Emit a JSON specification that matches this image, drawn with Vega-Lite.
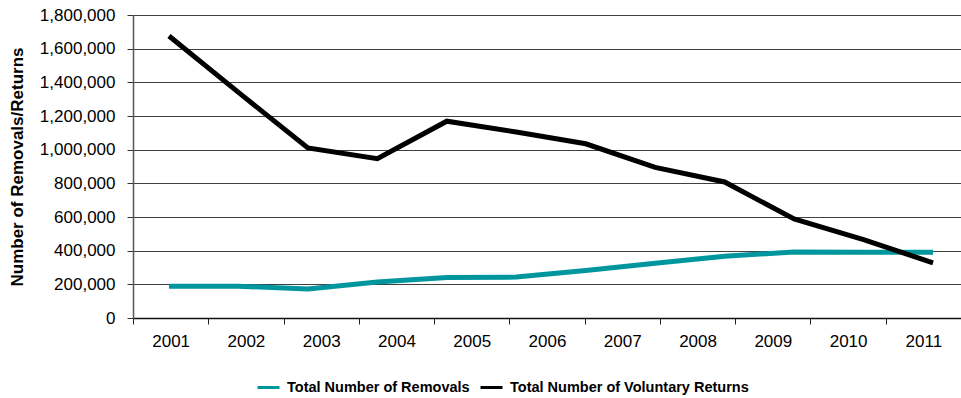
{
  "$schema": "https://vega.github.io/schema/vega-lite/v6.json",
  "autosize": "none",
  "width": 828,
  "height": 303,
  "padding": {"left": 133, "top": 15, "right": 0, "bottom": 80},
  "background": "white",
  "config": {
    "view": {"stroke": null},
    "font": "Liberation Sans"
  },
  "layer": [
    {
      "data": {"values": [
        {"year": 2000, "series": "Total Number of Removals", "value": 188000},
        {"year": 2001, "series": "Total Number of Removals", "value": 189000},
        {"year": 2002, "series": "Total Number of Removals", "value": 172000},
        {"year": 2003, "series": "Total Number of Removals", "value": 214000},
        {"year": 2004, "series": "Total Number of Removals", "value": 240000},
        {"year": 2005, "series": "Total Number of Removals", "value": 243000},
        {"year": 2006, "series": "Total Number of Removals", "value": 282000},
        {"year": 2007, "series": "Total Number of Removals", "value": 325000},
        {"year": 2008, "series": "Total Number of Removals", "value": 367000},
        {"year": 2009, "series": "Total Number of Removals", "value": 392000},
        {"year": 2010, "series": "Total Number of Removals", "value": 390000},
        {"year": 2011, "series": "Total Number of Removals", "value": 391000},
        {"year": 2000, "series": "Total Number of Voluntary Returns", "value": 1675000},
        {"year": 2001, "series": "Total Number of Voluntary Returns", "value": 1340000},
        {"year": 2002, "series": "Total Number of Voluntary Returns", "value": 1010000},
        {"year": 2003, "series": "Total Number of Voluntary Returns", "value": 946000},
        {"year": 2004, "series": "Total Number of Voluntary Returns", "value": 1169000},
        {"year": 2005, "series": "Total Number of Voluntary Returns", "value": 1105000},
        {"year": 2006, "series": "Total Number of Voluntary Returns", "value": 1035000},
        {"year": 2007, "series": "Total Number of Voluntary Returns", "value": 895000},
        {"year": 2008, "series": "Total Number of Voluntary Returns", "value": 808000},
        {"year": 2009, "series": "Total Number of Voluntary Returns", "value": 588000},
        {"year": 2010, "series": "Total Number of Voluntary Returns", "value": 465000},
        {"year": 2011, "series": "Total Number of Voluntary Returns", "value": 328000}
      ]},
      "mark": {"type": "line", "strokeWidth": 5, "interpolate": "linear"},
      "encoding": {
        "x": {"field": "year", "type": "quantitative", "axis": null,
              "scale": {"domain": [1999.482, 2011.403], "nice": false, "zero": false}},
        "y": {"field": "value", "type": "quantitative",
              "scale": {"domain": [0, 1800000], "nice": false},
              "axis": {
                "values": [0, 200000, 400000, 600000, 800000, 1000000, 1200000, 1400000, 1600000, 1800000],
                "format": ",.0f",
                "title": "Number of Removals/Returns",
                "titleFont": "Liberation Sans",
                "titleFontSize": 17,
                "titleFontWeight": "bold",
                "titleColor": "black",
                "titleAngle": -90,
                "titleAlign": "center",
                "titleBaseline": "alphabetic",
                "titleX": -111,
                "titleY": 151.5,
                "labelFont": "Liberation Sans",
                "labelFontSize": 17,
                "labelColor": "black",
                "labelPadding": 12,
                "tickSize": 6,
                "tickColor": "#333333",
                "domainColor": "#555555",
                "domainWidth": 1.5,
                "grid": true,
                "gridColor": "#404040",
                "gridWidth": 1,
                "gridOpacity": 1
              }},
        "color": {"field": "series", "type": "nominal",
                  "scale": {"domain": ["Total Number of Removals", "Total Number of Voluntary Returns"],
                            "range": ["#00969E", "#000000"]},
                  "legend": {
                    "title": null,
                    "orient": "none",
                    "direction": "horizontal",
                    "legendX": 123,
                    "legendY": 360,
                    "symbolType": "stroke",
                    "symbolSize": 484,
                    "symbolStrokeWidth": 3,
                    "labelFont": "Liberation Sans",
                    "labelFontSize": 14.5,
                    "labelFontWeight": "bold",
                    "labelColor": "black",
                    "labelOffset": 6,
                    "columnPadding": 4,
                    "labelLimit": 400
                  }}
      }
    },
    {
      "data": {"values": [
        {"label": "2001"}, {"label": "2002"}, {"label": "2003"}, {"label": "2004"},
        {"label": "2005"}, {"label": "2006"}, {"label": "2007"}, {"label": "2008"},
        {"label": "2009"}, {"label": "2010"}, {"label": "2011"}
      ]},
      "mark": {"type": "point", "opacity": 0},
      "encoding": {
        "x": {"field": "label", "type": "ordinal",
              "scale": {"type": "band", "paddingInner": 0, "paddingOuter": 0},
              "axis": {
                "orient": "bottom",
                "title": null,
                "labelAngle": 0,
                "tickBand": "extent",
                "labelFont": "Liberation Sans",
                "labelFontSize": 17,
                "labelColor": "black",
                "labelPadding": 9,
                "tickSize": 6,
                "tickColor": "#222222",
                "domainColor": "#111111",
                "domainWidth": 1.5,
                "grid": false
              }}
      }
    }
  ],
  "resolve": {"scale": {"x": "independent"}}
}
